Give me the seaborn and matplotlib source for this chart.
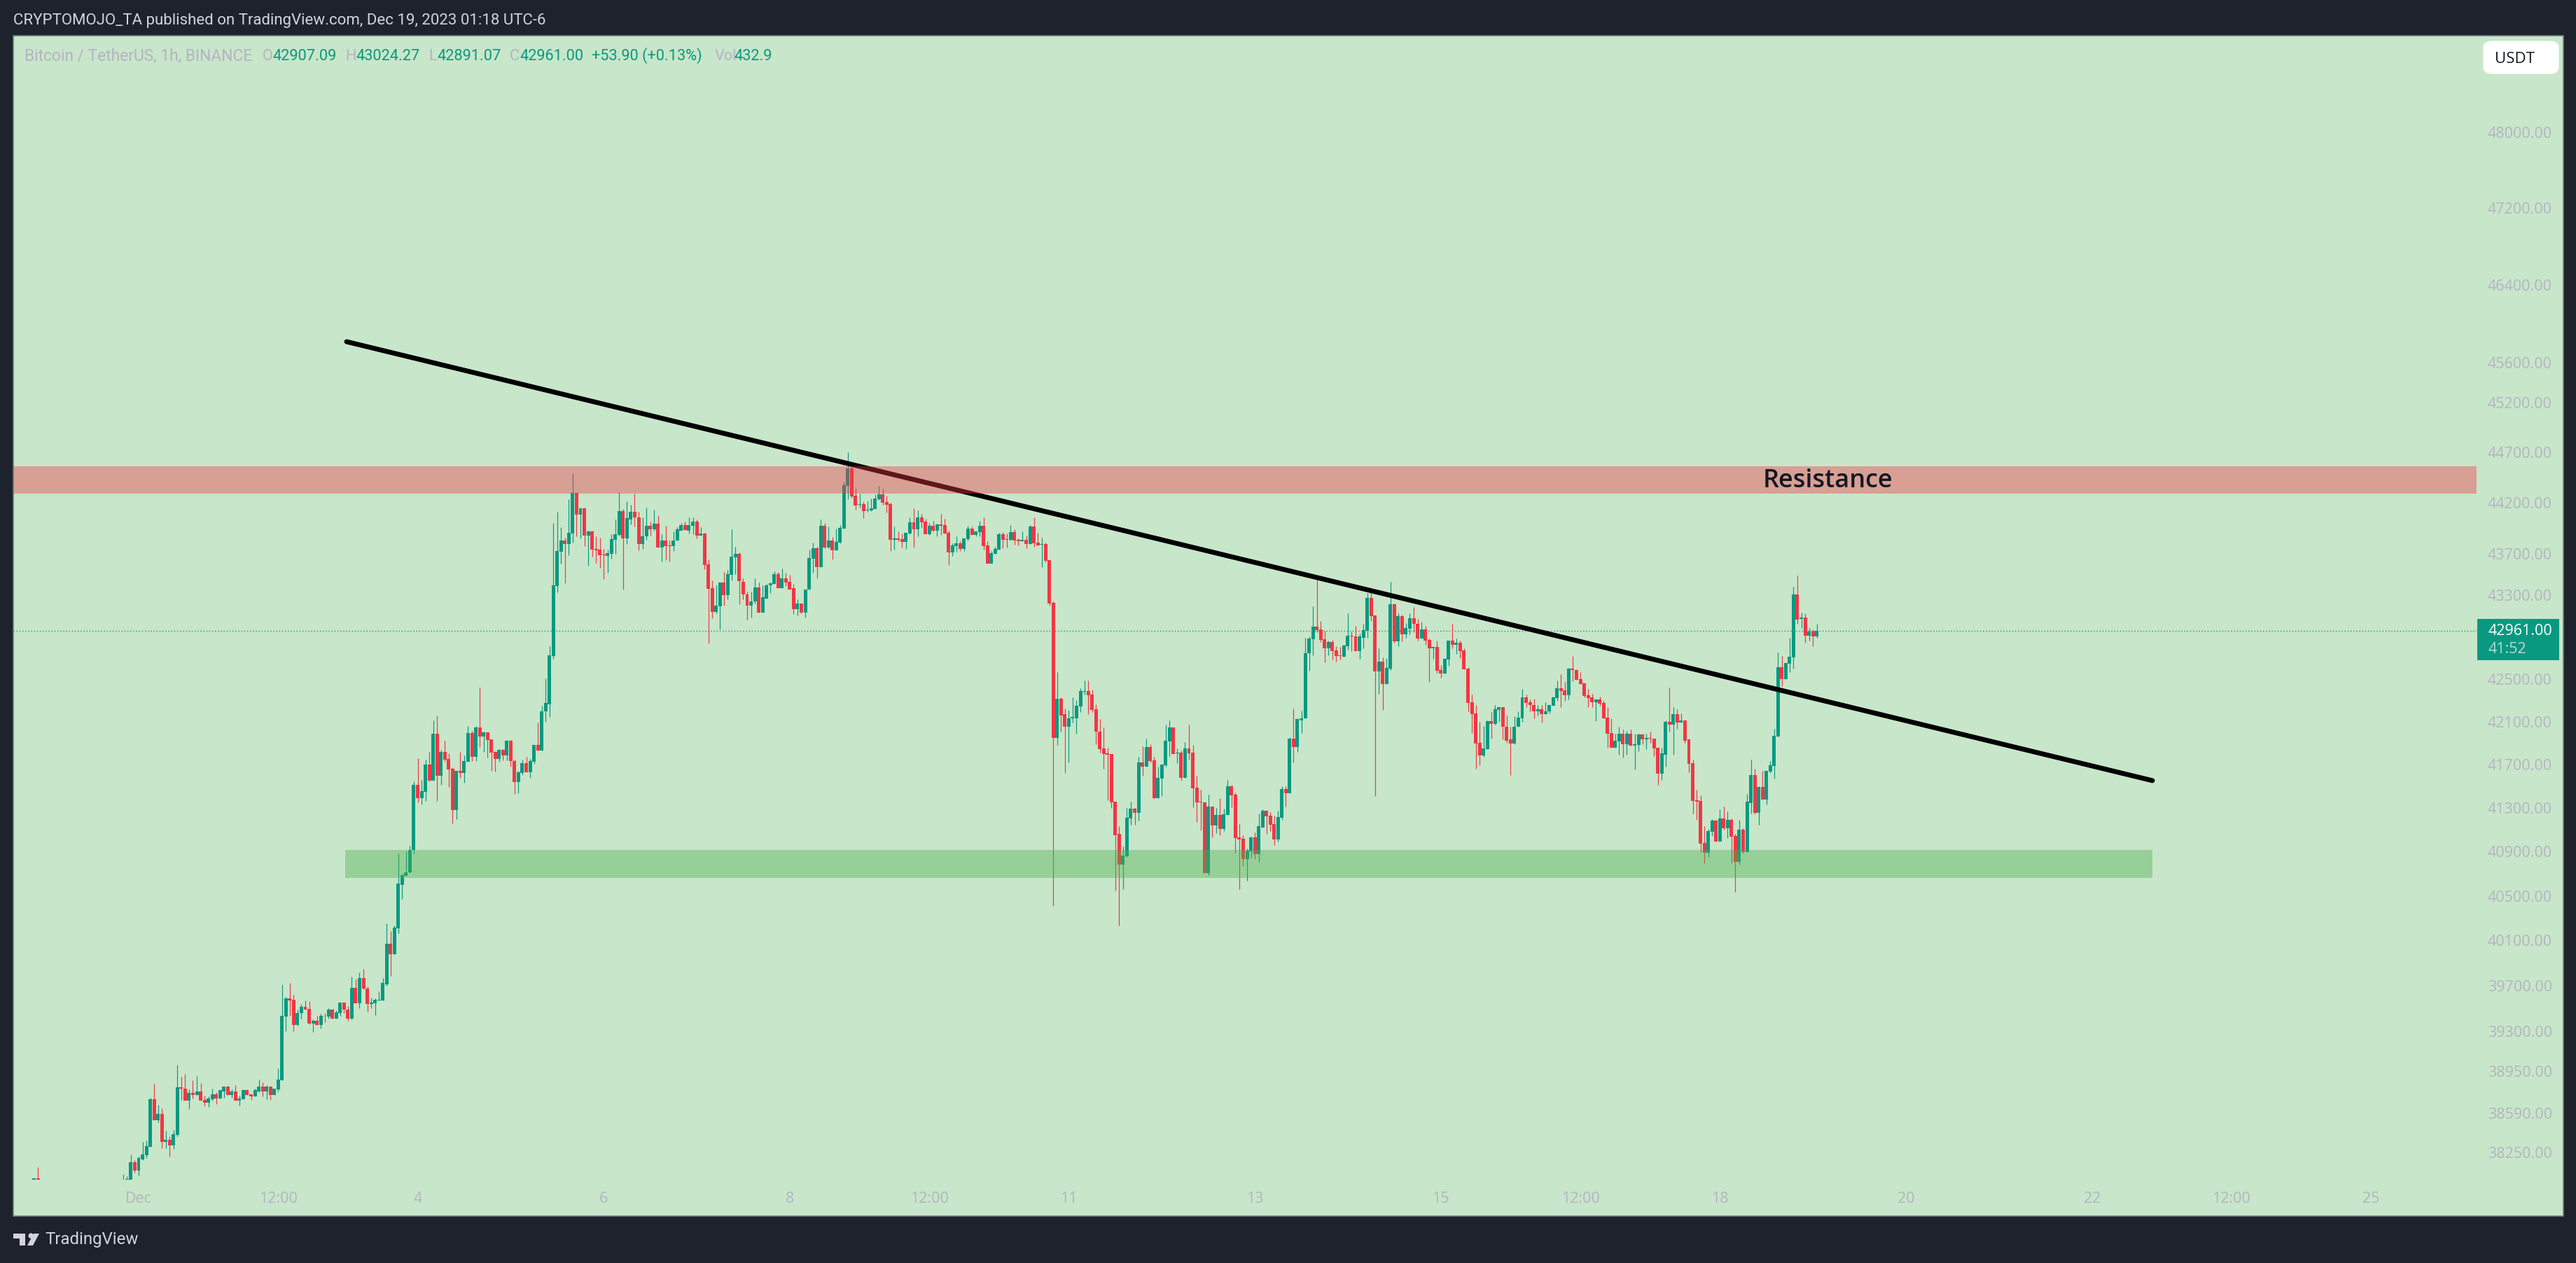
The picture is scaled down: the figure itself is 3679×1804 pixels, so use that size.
import numpy as np
import pandas as pd
import matplotlib
matplotlib.use("Agg")
import matplotlib.pyplot as plt
from matplotlib.patches import Rectangle, FancyBboxPatch, Polygon
from matplotlib.ticker import FixedLocator, FixedFormatter, NullLocator
import seaborn as sns

# ---------- data: hourly BTC/USDT candles ----------
hours = list(range(-27, -25)) + list(range(-4, 434))   # hours since Dec 1 00:00

directions = ("GR"
    "GGGRGGGGRG" "RGRGGRRGRG" "RRGGRGGRGR" "GGRRGGRGRG" "GGGRRGGRRG"
    "RGRGRGGRRG" "RGRRGGGGGR" "GGGGGGRGGR" "GRGRRRGRGG" "RGRGRRRGRG"
    "RRGGRGGRGG" "GGGGRGGRGR" "GRRRRGGGGR" "GGRRGGRGRG" "RRGGGRGGRG"
    "RRRGGRGGGR" "RRGGRGGGGR" "GRRRGRGGGR" "GRGRGGGGRR" "GRGGGGRRRG"
    "RRGGRGRRGR" "GRRRGGRGGR" "GGRRGGGRRG" "RRGRGRRGRR" "RGRRGGGGGR"
    "RRRRRRRRGG" "GRGRGRRGGG" "GRGRGRRRRR" "GRGRGGRRRR" "GGRGGRRRGG"
    "RGRGGGGGRR" "RGRRRGGRRG" "GGRRGRGGRG" "RGGRRGRRGR" "RGGRGRRRRR"
    "RGGRGGRRRG" "GGRRRGRGGG" "GRRGRRRRRR" "GRRRRGGRGR" "GGRGRRRGGR"
    "GRGRRRRRRG" "GRGRGRRGRG" "GRGRGGGGRG" "GGRGRGRG")

body_tops = [38035, 38035,
    37985,38025,38170,38170,38205,38235,38305,38710,38710,38580,
    38580,38360,38360,38410,38810,38810,38800,38765,38765,38775,
    38775,38705,38715,38750,38750,38785,38820,38820,38775,38775,
    38715,38785,38785,38750,38785,38820,38820,38815,38815,38800,
    38875,39430,39585,39585,39575,39460,39515,39515,39495,39390,
    39390,39435,39435,39490,39490,39465,39550,39550,39490,39680,
    39680,39765,39765,39675,39550,39575,39575,39720,40070,40070,
    40215,40610,40685,40715,40915,41510,41510,41455,41700,41700,
    41990,41990,41815,41815,41750,41660,41645,41645,41735,41995,
    41995,42045,42045,42000,42000,41935,41815,41840,41840,41925,
    41925,41735,41630,41715,41715,41735,41880,41880,42200,42275,
    42725,43395,43730,43830,43830,43905,44300,44300,44150,44150,
    43920,43920,43750,43745,43695,43710,43845,43895,44120,44120,
    44050,44110,44110,44060,43870,43975,43975,44000,44000,43835,
    43835,43785,43835,43940,43985,43985,43980,44020,44020,43900,
    43900,43600,43370,43200,43425,43425,43505,43675,43700,43700,
    43430,43310,43245,43380,43380,43280,43400,43415,43505,43505,
    43465,43465,43430,43370,43220,43220,43360,43660,43760,43760,
    43975,43975,43835,43835,43820,43955,44375,44540,44540,44270,
    44190,44190,44135,44150,44245,44285,44285,44210,44190,43855,
    43855,43845,43910,44010,44010,44060,44060,44020,43975,43975,
    43990,43990,43985,43910,43785,43805,43805,43855,43950,43950,
    43920,43975,43975,43785,43710,43750,43895,43895,43845,43915,
    43915,43840,43840,43840,43970,43970,43815,43800,43800,43640,
    43230,42315,42315,42170,42135,42145,42250,42390,42390,42390,
    42355,42215,42010,41850,41805,41800,41355,41060,40865,41210,
    41295,41295,41720,41720,41865,41865,41740,41575,41700,41925,
    42045,42045,41810,41810,41850,41850,41810,41485,41355,41350,
    41315,41315,41235,41235,41245,41500,41500,41420,41030,41015,
    40910,41030,41030,41130,41275,41275,41230,41155,41215,41475,
    41475,41945,41945,42125,42135,42750,42890,43000,43000,42975,
    42880,42855,42855,42775,42730,42820,42915,42915,42910,42905,
    42970,43275,43275,43110,42670,42670,42610,43215,43215,43100,
    43100,42990,43080,43080,43025,42975,42975,42875,42805,42805,
    42590,42695,42870,42870,42850,42850,42775,42600,42280,42175,
    41900,41850,42105,42105,42215,42235,42235,42055,41935,42055,
    42140,42330,42330,42280,42260,42215,42215,42200,42255,42330,
    42415,42415,42395,42600,42600,42590,42500,42460,42350,42330,
    42310,42310,42275,42140,41995,41920,41990,41990,41990,41990,
    41890,41980,41980,41950,41950,41945,41855,41805,42100,42100,
    42170,42170,42115,42115,41935,41715,41370,41365,40980,41090,
    41185,41185,41205,41205,41190,41190,41045,41100,41100,41355,
    41605,41605,41495,41495,41645,41695,41965,42615,42615,42655,
    42715,43310,43310,43085,43085,42955,42955,42961]

body_bottoms = [37985, 37970,
    37960,37970,38020,38100,38100,38195,38230,38300,38530,38530,
    38345,38345,38310,38310,38400,38800,38695,38695,38745,38745,
    38695,38680,38680,38710,38715,38715,38775,38745,38745,38695,
    38695,38710,38745,38735,38735,38775,38775,38775,38745,38745,
    38795,38870,39425,39570,39355,39355,39455,39490,39365,39365,
    39355,39355,39430,39425,39405,39405,39460,39485,39410,39410,
    39545,39545,39670,39535,39535,39545,39570,39570,39710,39975,
    39975,40210,40600,40680,40710,40915,41390,41390,41450,41550,
    41550,41600,41600,41745,41655,41280,41280,41625,41625,41730,
    41775,41775,41960,41960,41930,41810,41750,41750,41785,41785,
    41735,41540,41540,41625,41630,41630,41730,41830,41830,42195,
    42265,42720,43390,43725,43795,43795,43900,44085,44085,43880,
    43880,43745,43735,43690,43690,43685,43705,43840,43885,43855,
    43855,44040,44060,43800,43800,43870,43940,43940,43765,43765,
    43780,43775,43775,43835,43930,43935,43930,43975,43880,43880,
    43595,43365,43140,43140,43195,43305,43305,43500,43670,43435,
    43310,43205,43205,43240,43135,43135,43270,43400,43410,43370,
    43370,43425,43360,43165,43165,43135,43135,43355,43655,43575,
    43575,43765,43765,43740,43740,43815,43950,44365,44265,44175,
    44180,44120,44125,44125,44140,44235,44205,44180,43840,43840,
    43840,43820,43820,43900,43945,43945,44010,43895,43895,43930,
    43930,43975,43900,43715,43715,43780,43750,43750,43845,43890,
    43890,43915,43780,43610,43610,43705,43745,43840,43840,43840,
    43835,43825,43825,43800,43800,43805,43785,43790,43635,43225,
    41950,41950,42160,42050,42050,42135,42135,42245,42380,42350,
    42210,42005,41845,41800,41790,41350,41050,40785,40785,40860,
    41205,41255,41255,41680,41680,41735,41390,41390,41570,41695,
    41915,41800,41805,41580,41580,41805,41480,41350,41350,40705,
    40705,41140,41140,41110,41110,41235,41415,41025,41010,40835,
    40835,40905,40875,40875,41120,41225,41145,41010,41010,41210,
    41435,41435,41865,41865,42115,42130,42745,42880,42970,42875,
    42795,42795,42770,42720,42720,42715,42815,42905,42770,42770,
    42895,42960,43100,42575,42575,42455,42455,42600,42860,42860,
    42930,42930,42980,43030,42885,42885,42870,42790,42790,42580,
    42555,42555,42690,42830,42830,42770,42595,42275,42170,41895,
    41785,41785,41845,42080,42080,42210,42050,41925,41895,41895,
    42050,42135,42275,42255,42195,42195,42170,42170,42195,42250,
    42320,42390,42350,42350,42585,42495,42455,42340,42320,42280,
    42280,42270,42135,41990,41860,41860,41915,41890,41890,41875,
    41875,41880,41935,41935,41940,41850,41615,41615,41795,42075,
    42075,42095,42095,41925,41705,41365,41360,40975,40890,40890,
    41080,40990,40990,41115,41115,41035,40810,40810,40895,40895,
    41345,41255,41255,41380,41380,41635,41690,41960,42500,42500,
    42650,42710,43070,43075,42915,42915,42905,42907]

highs = [38035, 38130,
    38070,38050,38235,38185,38215,38340,38355,38720,38840,38660,
    38630,38435,38390,38445,39005,38900,38925,38790,38870,38905,
    38850,38740,38735,38800,38770,38785,38820,38825,38790,38830,
    38740,38795,38795,38750,38800,38875,38855,38830,38815,38800,
    38975,39710,39600,39725,39620,39485,39535,39565,39560,39400,
    39435,39450,39460,39500,39495,39480,39550,39550,39520,39780,
    39755,39815,39845,39690,39595,39585,39650,39765,40255,40185,
    40235,40885,40700,40900,40955,41545,41760,41560,41745,41815,
    42115,42160,41840,41925,41805,41675,41645,41815,41785,42060,
    42015,42060,42420,42010,42000,41935,41825,41845,41845,41930,
    41930,41745,41645,41745,41770,41755,41885,42095,42250,42505,
    42815,44005,44115,43965,43860,44240,44495,44300,44155,44155,
    43925,43930,43870,43860,43750,43745,43895,44035,44305,44140,
    44215,44185,44290,44110,44055,44155,44015,44135,44080,43895,
    43975,43830,43920,43960,44005,44015,44060,44060,44040,43960,
    43910,43650,43445,43395,43425,43525,43545,43940,43770,43715,
    43465,43340,43340,43465,43425,43395,43410,43425,43530,43525,
    43560,43520,43500,43410,43265,43220,43360,43745,43815,43770,
    44040,44005,43970,43865,43950,43985,44410,44700,44565,44345,
    44290,44210,44215,44245,44285,44365,44340,44270,44205,43970,
    43920,43900,43910,44060,44150,44125,44095,44045,44005,44025,
    43995,44095,44045,43930,43805,43875,43825,43855,43975,43970,
    43920,44025,44060,43825,43730,43770,43910,43915,43900,43985,
    43945,43855,43920,43880,43985,44060,43910,43860,43815,43640,
    43245,42565,42330,42225,42210,42330,42300,42415,42490,42490,
    42405,42265,42125,42045,41855,41800,41355,41130,40950,41300,
    41355,41300,41770,41870,41945,41890,41770,41680,41700,42075,
    42110,42045,41850,41830,41910,42075,41880,41595,41465,41350,
    41425,41315,41300,41390,41295,41560,41510,41445,41155,41050,
    40930,41040,41075,41250,41285,41275,41260,41230,41275,41500,
    41500,41955,42225,42135,42205,42895,42905,43195,43455,43055,
    42960,42870,42875,42815,42805,42830,43125,42955,43010,42935,
    43030,43320,43330,43110,42795,42710,42700,43430,43220,43125,
    43115,43035,43125,43190,43075,43045,43005,42890,42810,42870,
    42635,42700,42870,43025,42890,42865,42790,42615,42355,42260,
    42100,42060,42115,42190,42260,42235,42235,42160,42050,42150,
    42195,42410,42355,42310,42315,42255,42255,42280,42255,42335,
    42490,42550,42475,42610,42720,42595,42570,42460,42410,42360,
    42310,42335,42295,42240,42135,41985,42055,42030,42015,42030,
    41985,41990,41990,41990,42010,41945,41855,41855,42115,42420,
    42235,42215,42180,42115,41935,41745,41470,41415,41130,41110,
    41200,41190,41290,41310,41270,41205,41065,41190,41115,41430,
    41745,41660,41500,41645,41645,41735,42035,42755,42720,42655,
    42895,43385,43490,43135,43130,42990,42975,43024]

lows = [37950, 37950,
    37930,37950,37995,38080,38055,38190,38205,38300,38530,38510,
    38290,38290,38215,38285,38390,38705,38695,38625,38715,38745,
    38695,38650,38640,38695,38665,38715,38720,38745,38720,38695,
    38655,38710,38745,38705,38735,38770,38735,38710,38705,38745,
    38775,38870,39295,39430,39300,39345,39410,39485,39360,39290,
    39355,39325,39380,39405,39405,39405,39430,39460,39390,39400,
    39545,39500,39665,39470,39500,39440,39565,39570,39700,39785,
    39975,40165,40470,40680,40705,40885,41350,41330,41365,41545,
    41550,41365,41515,41730,41495,41160,41200,41575,41530,41725,
    41735,41735,41865,41820,41765,41640,41635,41730,41740,41740,
    41680,41430,41435,41605,41630,41580,41705,41830,41830,42100,
    42145,42695,43330,43610,43415,43690,43810,43870,43850,43775,
    43585,43675,43615,43565,43460,43520,43655,43705,43880,43355,
    43800,43990,43970,43740,43750,43840,43880,43930,43765,43630,
    43645,43625,43730,43835,43930,43935,43900,43895,43855,43880,
    43555,42840,43080,43130,42975,43205,43265,43445,43505,43215,
    43260,43065,43085,43225,43135,43135,43270,43320,43410,43370,
    43370,43390,43360,43120,43110,43130,43090,43355,43520,43465,
    43575,43760,43760,43650,43740,43805,43950,44235,44250,44135,
    44155,44050,44115,44120,44140,44230,44180,44105,43730,43745,
    43825,43765,43750,43895,43765,43875,43955,43895,43890,43920,
    43875,43890,43900,43595,43685,43725,43730,43730,43835,43890,
    43875,43875,43745,43610,43610,43705,43745,43760,43765,43835,
    43790,43785,43825,43760,43800,43770,43785,43575,43620,43205,
    40410,41880,42010,41625,41720,42095,41985,42190,42355,42170,
    42190,41890,41810,41660,41370,41300,40545,40230,40560,40855,
    41145,41145,41185,41595,41680,41720,41385,41390,41410,41680,
    41780,41800,41715,41550,41580,41745,41305,41170,41095,40705,
    40685,41030,41070,41050,41090,41235,41305,40890,40560,40770,
    40635,40845,40835,40810,41120,41065,41090,40960,40995,41190,
    41315,41435,41720,41815,41995,42130,42580,42730,42950,42855,
    42660,42730,42685,42670,42690,42715,42780,42770,42770,42695,
    42795,42895,43055,41410,42360,42210,42455,42590,42850,42815,
    42860,42895,42930,42950,42865,42885,42825,42475,42695,42560,
    42515,42555,42630,42795,42740,42700,42595,42195,41995,41660,
    41695,41770,41845,41945,42070,42100,41935,41900,41605,41890,
    42050,42100,42240,42200,42135,42155,42090,42170,42180,42250,
    42295,42235,42295,42310,42480,42495,42455,42330,42240,42235,
    42105,42250,42135,41860,41855,41860,41795,41765,41795,41875,
    41655,41825,41890,41845,41900,41780,41510,41560,41680,42010,
    41795,42035,42095,41905,41630,41250,41190,40895,40795,40855,
    41045,40990,40990,41100,41025,40795,40535,40780,40885,40895,
    41250,41245,41145,41380,41335,41625,41570,41960,42435,42500,
    42570,42600,43030,42990,42845,42865,42815,42891]

last_price = 42961.00
resistance_zone = (44292, 44562)
support_zone = (40661, 40915)
zone_hours = (53.3, 519.6)
trend_hours = [53.66, 519.6]
trend_prices = [45815, 41552]

price_ticks = [48000, 47200, 46400, 45600, 45200, 44700, 44200, 43700, 43300, 42500,
               42100, 41700, 41300, 40900, 40500, 40100, 39700, 39300, 38950, 38590, 38250]
time_tick_hours = [0, 36, 72, 120, 168, 204, 240, 288, 336, 372, 408, 456, 504, 540, 576]
time_tick_labels = ["Dec", "12:00", "4", "6", "8", "12:00", "11", "13", "15", "12:00",
                    "18", "20", "22", "12:00", "25"]

# ---------- style ----------
W, H = 3680, 1804
FRAME = "#1E222D"
PANE = "#C8E6C9"
UP = "#089981"
DOWN = "#F23645"
MUTED = "#B4B4C4"

sns.set_theme(style="white")
plt.rcParams["font.family"] = ["Open Sans", "DejaVu Sans"]

fig = plt.figure(figsize=(W / 100, H / 100), dpi=100, facecolor=FRAME)

def fx(x): return x / W
def fy(y): return 1 - y / H

# pane behind the axes (chart + scales)
fig.add_artist(Rectangle((fx(19), fy(1737)), fx(3661) - fx(19), fy(51) - fy(1737),
                         transform=fig.transFigure, facecolor=PANE, edgecolor="#6F7B7C",
                         linewidth=1.2, zorder=0))

ax = fig.add_axes([fx(19), fy(1685), fx(3537) - fx(19), fy(51) - fy(1685)])
ax.patch.set_alpha(0)
for s in ax.spines.values():
    s.set_visible(False)

ax.set_yscale("log")
ax.set_xlim(-32.34, 603.25)
ax.set_ylim(38021, 49043)

df = pd.DataFrame({"hour": hours, "top": body_tops, "bottom": body_bottoms,
                   "high": highs, "low": lows, "dir": list(directions)})
df["color"] = df["dir"].map({"G": UP, "R": DOWN})

ax.vlines(df["hour"], df["low"], df["high"], colors=df["color"], linewidth=0.85, zorder=2)
ax.bar(df["hour"], df["top"] - df["bottom"], bottom=df["bottom"], width=0.9,
       color=df["color"], linewidth=0, zorder=2.1)

# last price line
ax.axhline(last_price, color=UP, linewidth=1.0, linestyle=(0, (1, 2)), zorder=1.5)

# trend line
sns.lineplot(data=pd.DataFrame({"h": trend_hours, "p": trend_prices}), x="h", y="p", ax=ax,
             color="black", linewidth=5.0, solid_capstyle="round", zorder=3, estimator=None)
ax.set_xlabel("")
ax.set_ylabel("")

# zones drawn over everything
ax.axhspan(resistance_zone[0], resistance_zone[1], color=DOWN, alpha=0.4, linewidth=0, zorder=4)
ax.fill_between(zone_hours, support_zone[0], support_zone[1], color="#4CAF50", alpha=0.4,
                linewidth=0, zorder=4)

ax.text(419, 44418, "Resistance", fontsize=26, fontweight=600, color="#131722",
        ha="left", va="center", zorder=5)

# axes labelling
ax.yaxis.tick_right()
ax.yaxis.set_major_locator(FixedLocator(price_ticks))
ax.yaxis.set_major_formatter(FixedFormatter([f"{p:.2f}" for p in price_ticks]))
ax.yaxis.set_minor_locator(NullLocator())
ax.tick_params(axis="y", which="major", length=0, pad=11.5, labelsize=15.5, labelcolor=MUTED)
ax.set_xticks(time_tick_hours)
ax.set_xticklabels(time_tick_labels)
ax.tick_params(axis="x", which="major", length=0, pad=12, labelsize=15.5, labelcolor=MUTED)

# header
fig.text(fx(19), fy(29), "CRYPTOMOJO_TA published on TradingView.com, Dec 19, 2023 01:18 UTC-6",
         fontsize=16, color="#D1D4DC", ha="left", va="center", family="Roboto")

# OHLC legend
fig.text(fx(35), fy(80), "Bitcoin / TetherUS, 1h, BINANCE", fontsize=16.4, color=MUTED,
         ha="left", va="center", family="Roboto")
legend_items = [(375, "O", MUTED), (389, "42907.09", UP),
                (493, "H", MUTED), (508, "43024.27", UP), (612, "L", MUTED), (624, "42891.07", UP),
                (728, "C", MUTED), (742, "42961.00", UP), (845, "+53.90 (+0.13%)", UP),
                (1021, "Vol", MUTED), (1048, "432.9", UP)]
for x, label, col in legend_items:
    fig.text(fx(x), fy(80), label, fontsize=15.7, color=col, ha="left", va="center", family="Roboto")

# USDT button
fig.add_artist(FancyBboxPatch((fx(3552), fy(100)), fx(3649) - fx(3552), fy(64) - fy(100),
                              boxstyle="round,pad=0,rounding_size=0.002",
                              transform=fig.transFigure, facecolor="white",
                              edgecolor="white", linewidth=8, zorder=5))
fig.text(fx(3563), fy(84), "USDT", fontsize=16, color="#131722", ha="left", va="center", zorder=6)

# last price badge
fig.add_artist(Rectangle((fx(3538), fy(943)), fx(3655) - fx(3538), fy(884) - fy(943),
                         transform=fig.transFigure, facecolor=UP, edgecolor="none", zorder=5))
fig.text(fx(3554), fy(901), f"{last_price:.2f}", fontsize=15.5, fontweight=500, color="white",
         ha="left", va="center", zorder=6)
fig.text(fx(3554), fy(927), "41:52", fontsize=15.5, fontweight=500, color="#B4DDD5",
         ha="left", va="center", zorder=6)

# footer logo + name
LOGO = "#D1D4DC"
fig.add_artist(Rectangle((fx(19), fy(1769)), fx(36) - fx(19), fy(1762) - fy(1769),
                         transform=fig.transFigure, facecolor=LOGO, edgecolor="none"))
fig.add_artist(Rectangle((fx(28), fy(1779)), fx(36) - fx(28), fy(1769) - fy(1779),
                         transform=fig.transFigure, facecolor=LOGO, edgecolor="none"))
fig.add_artist(Polygon([(fx(48), fy(1762)), (fx(56), fy(1762)), (fx(47), fy(1779)), (fx(39), fy(1779))],
                       closed=True, transform=fig.transFigure, facecolor=LOGO, edgecolor="none"))
fig.text(fx(44), fy(1765.5), "\u25CF", fontsize=7, color=LOGO, ha="center", va="center")
fig.text(fx(64), fy(1771), "TradingView", fontsize=17.3, color=LOGO, ha="left", va="center", family="Roboto")

fig.savefig("out.png", dpi=100, facecolor=FRAME)
